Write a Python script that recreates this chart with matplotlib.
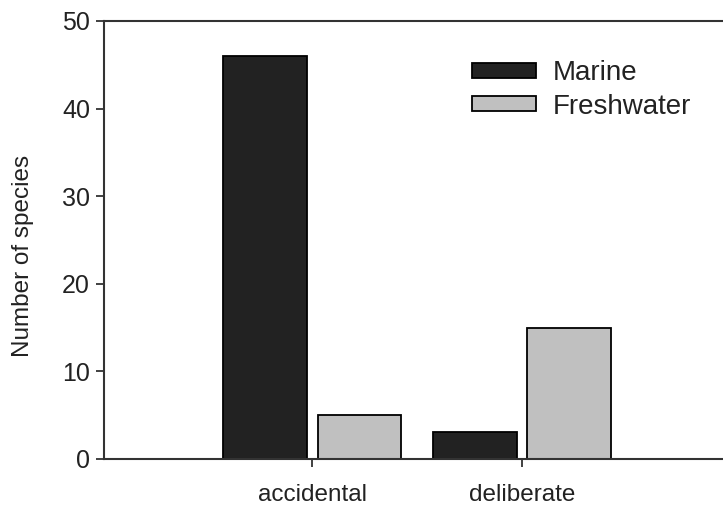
import numpy as np
import matplotlib.pyplot as plt

plt.rcParams['font.family'] = ['Liberation Sans', 'DejaVu Sans']

categories = ["accidental", "deliberate"]
marine = [46, 3.1]
freshwater = [5, 15]

x = np.arange(len(categories))
width = 0.4

fig = plt.figure(figsize=(7.23, 5.09), dpi=100)
ax = fig.add_axes([104 / 723, 50 / 509, 1 - 104 / 723, 438 / 509])

ax.bar(x - 0.225, marine, width, color="#222222", edgecolor="black", linewidth=1.3, label="Marine")
ax.bar(x + 0.225, freshwater, width, color="#c0c0c0", edgecolor="black", linewidth=1.3, label="Freshwater")

ax.set_xlim(-0.995, 1.96)
ax.set_ylim(0, 50)
ax.set_yticks(np.arange(0, 51, 10))
ax.set_xticks(x)
ax.set_xticklabels(categories, fontsize=17.5, color="#222222")
ax.tick_params(axis="y", labelsize=18, labelcolor="#222222", length=6, width=1.3, color="#333333", pad=4)
ax.tick_params(axis="x", length=6, width=1.3, color="#333333", pad=12)
ax.set_ylabel("Number of species", fontsize=17.5, color="#222222")
ax.yaxis.set_label_coords(-0.113, 0.463)

ax.spines["right"].set_visible(False)
for s in ["left", "top", "bottom"]:
    ax.spines[s].set_linewidth(1.5)
    ax.spines[s].set_color("#333333")

ax.legend(loc="upper left", bbox_to_anchor=(472 / 723, (509 - 60) / 509), bbox_transform=fig.transFigure,
          frameon=False, fontsize=20, handlelength=2.3, handleheight=0.45, borderpad=0, borderaxespad=0,
          labelspacing=0.28, handletextpad=0.6, labelcolor="#222222")

fig.savefig("out.png", dpi=100)
